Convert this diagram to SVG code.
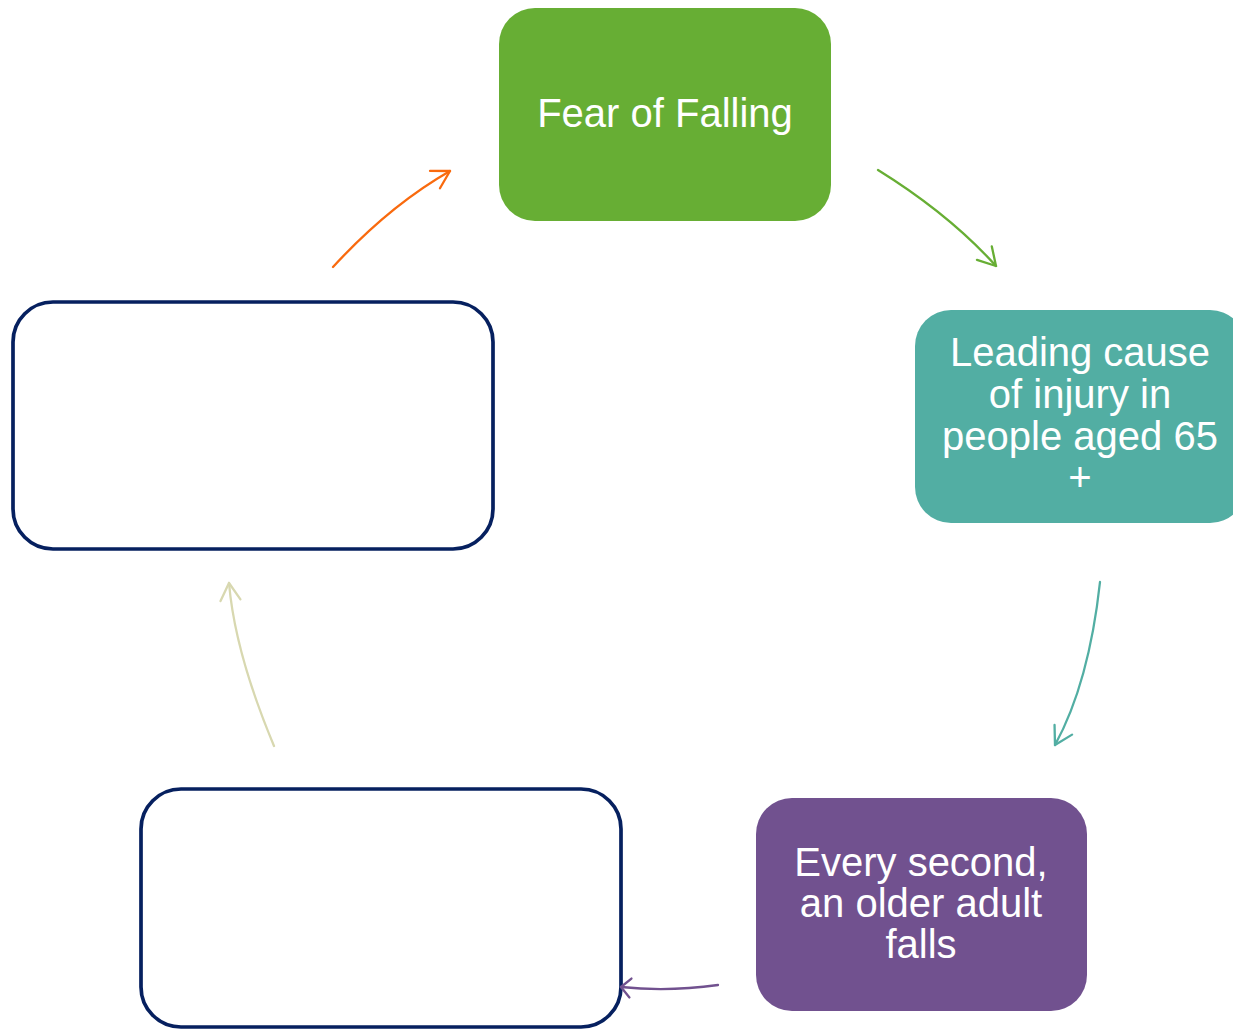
<svg xmlns="http://www.w3.org/2000/svg" width="1233" height="1030" viewBox="0 0 1233 1030">
<style>
.lbl{font-family:"Liberation Sans",Arial,sans-serif;font-size:40px;fill:#ffffff;text-anchor:middle}
.empty{fill:#ffffff;stroke:#06205F;stroke-width:3.7}
.conn{fill:none;stroke-width:2.3;stroke-linecap:round}
.head{fill:none;stroke-width:2.3;stroke-linecap:round;stroke-linejoin:round}
</style>
<defs>
<marker id="mOrange" markerUnits="userSpaceOnUse" markerWidth="26" markerHeight="26" viewBox="-22 -13 26 26" refX="0" refY="0" orient="auto"><path class="head" stroke="#F96A0E" d="M-17.3,-10 L0,0 L-17.3,10"/></marker>
<marker id="mGreen" markerUnits="userSpaceOnUse" markerWidth="26" markerHeight="26" viewBox="-22 -13 26 26" refX="0" refY="0" orient="auto"><path class="head" stroke="#67AE34" d="M-17.3,-10 L0,0 L-17.3,10"/></marker>
<marker id="mTeal" markerUnits="userSpaceOnUse" markerWidth="26" markerHeight="26" viewBox="-22 -13 26 26" refX="0" refY="0" orient="auto"><path class="head" stroke="#52AEA3" d="M-17.3,-10 L0,0 L-17.3,10"/></marker>
<marker id="mPurple" markerUnits="userSpaceOnUse" markerWidth="26" markerHeight="26" viewBox="-22 -13 26 26" refX="0" refY="0" orient="auto"><path class="head" stroke="#71518F" d="M-9.5,-9.5 L0,0 L-9.5,9.5"/></marker>
<marker id="mBeige" markerUnits="userSpaceOnUse" markerWidth="26" markerHeight="26" viewBox="-22 -13 26 26" refX="0" refY="0" orient="auto"><path class="head" stroke="#D8D8B0" d="M-17.3,-10 L0,0 L-17.3,10"/></marker>
</defs>
<rect width="1233" height="1030" fill="#ffffff"/>
<g id="connectors">
<path class="conn" stroke="#F96A0E" d="M333,267 Q389,206 450,171" marker-end="url(#mOrange)"/>
<path class="conn" stroke="#67AE34" d="M878,170 Q949,214 996,266" marker-end="url(#mGreen)"/>
<path class="conn" stroke="#52AEA3" d="M1100,582 Q1089,683 1055,745" marker-end="url(#mTeal)"/>
<path class="conn" stroke="#D8D8B0" d="M274,746 Q235,653 229,583" marker-end="url(#mBeige)"/>
</g>
<g id="node-fear">
<rect x="499" y="8" width="332" height="213" rx="36" fill="#67AE34"/>
<text class="lbl" x="665" y="127">Fear of Falling</text>
</g>
<g id="node-leading">
<rect x="915" y="310" width="331" height="213" rx="36" fill="#52AEA3"/>
<text class="lbl" x="1080" y="366">Leading cause</text>
<text class="lbl" x="1080" y="408">of injury in</text>
<text class="lbl" x="1080" y="450">people aged 65</text>
<text class="lbl" x="1080" y="491">+</text>
</g>
<g id="node-every">
<rect x="756" y="798" width="331" height="213" rx="36" fill="#71518F"/>
<text class="lbl" x="921" y="876">Every second,</text>
<text class="lbl" x="921" y="917">an older adult</text>
<text class="lbl" x="921" y="958">falls</text>
</g>
<g id="node-bottom">
<rect class="empty" x="141" y="789" width="480" height="238" rx="40"/>
</g>
<g id="node-left">
<rect class="empty" x="13" y="302" width="480" height="247" rx="40"/>
</g>
<g id="connector-purple">
<path class="conn" stroke="#71518F" d="M718,985 Q668,992 621,987" marker-end="url(#mPurple)"/>
</g>
</svg>
